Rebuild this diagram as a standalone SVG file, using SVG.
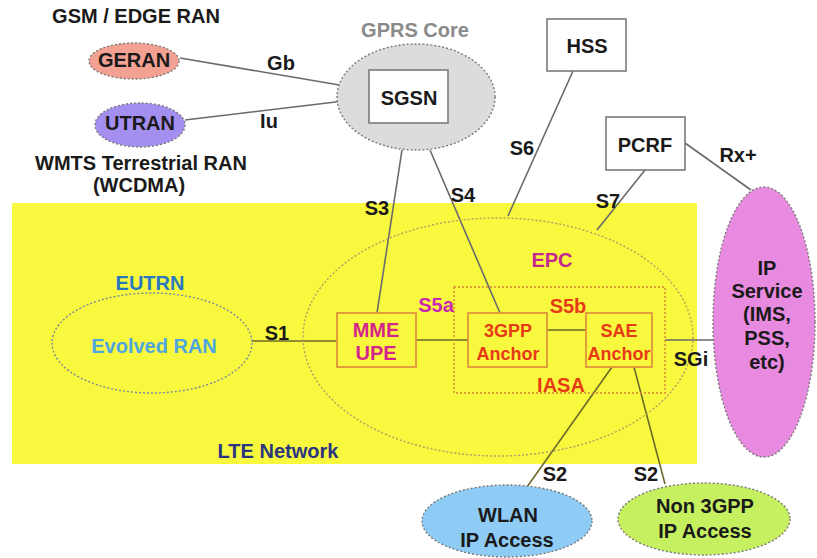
<svg xmlns="http://www.w3.org/2000/svg" width="817" height="558" viewBox="0 0 817 558">
  <style>
    text { font-family: "Liberation Sans", Arial, sans-serif; font-weight: bold; text-anchor: middle; font-size: 20px; }
    .lbl { fill: #1a1a1a; }
    .link { stroke: #6a6a6a; stroke-width: 1.6; fill: none; }
    .ylink { stroke: #6a6a2a; stroke-width: 1.6; fill: none; }
    .dot { stroke: #7a7a7a; stroke-width: 1.4; stroke-dasharray: 2 2; }
    .box { fill: #ffffff; stroke: #7a7a7a; stroke-width: 1.6; }
    .obox { fill: none; stroke: #e0943c; stroke-width: 1.8; }
    .red { fill: #e63a17; }
    .anc { font-size: 18px; }
  </style>

  <!-- LTE network area -->
  <rect id="lte-area" x="12" y="203" width="685" height="261" fill="#f8f83e"/>

  <!-- connectors -->
  <g id="connectors">
    <line class="link" x1="180" y1="58" x2="369" y2="90"/>
    <line class="link" x1="185" y1="120" x2="369" y2="98"/>
    <line class="link" x1="402" y1="150" x2="377" y2="313"/>
    <line class="link" x1="430" y1="150" x2="500" y2="313"/>
    <line class="link" x1="573" y1="71" x2="508" y2="216"/>
    <line class="link" x1="645" y1="170" x2="597" y2="230"/>
    <line class="link" x1="685" y1="143" x2="751" y2="190"/>
    <line class="ylink" x1="252" y1="341" x2="337" y2="341"/>
    <line class="ylink" x1="416" y1="340" x2="468" y2="340"/>
    <line class="ylink" x1="547" y1="330" x2="586" y2="330"/>
    <line class="link" x1="665" y1="340" x2="713" y2="340"/>
    <line class="ylink" x1="612" y1="367" x2="527" y2="487"/>
    <line class="ylink" x1="634" y1="367" x2="665" y2="484"/>
  </g>

  <!-- GERAN -->
  <g id="geran">
    <text class="lbl" x="136" y="23">GSM / EDGE RAN</text>
    <ellipse cx="134" cy="61" rx="45" ry="18" fill="#f3a192" class="dot"/>
    <text class="lbl" x="134" y="67" fill="#2a2a2a">GERAN</text>
  </g>

  <!-- UTRAN -->
  <g id="utran">
    <ellipse cx="140" cy="125" rx="45" ry="22" fill="#a48ef0" class="dot"/>
    <text class="lbl" x="140" y="130">UTRAN</text>
    <text class="lbl" x="141" y="170">WMTS Terrestrial RAN</text>
    <text class="lbl" x="139" y="192">(WCDMA)</text>
  </g>

  <!-- GPRS core with SGSN -->
  <g id="gprs-core">
    <text x="415" y="37" fill="#8a8a8a">GPRS Core</text>
    <ellipse cx="416" cy="97" rx="79" ry="53" fill="#dcdcdc" class="dot"/>
    <rect class="box" x="369" y="70" width="79" height="53"/>
    <text class="lbl" x="409" y="105" font-size="21">SGSN</text>
  </g>

  <!-- HSS -->
  <g id="hss">
    <rect class="box" x="547" y="19" width="79" height="52"/>
    <text class="lbl" x="587" y="53">HSS</text>
  </g>

  <!-- PCRF -->
  <g id="pcrf">
    <rect class="box" x="606" y="117" width="79" height="53"/>
    <text class="lbl" x="645" y="152">PCRF</text>
  </g>

  <!-- IP service -->
  <g id="ip-service">
    <ellipse cx="764" cy="322" rx="51" ry="135" fill="#e88ae0" class="dot"/>
    <text class="lbl" x="767" y="275">IP</text>
    <text class="lbl" x="767" y="298">Service</text>
    <text class="lbl" x="767" y="321">(IMS,</text>
    <text class="lbl" x="767" y="345">PSS,</text>
    <text class="lbl" x="767" y="369">etc)</text>
  </g>

  <!-- EUTRN -->
  <g id="eutrn">
    <text x="150" y="290" fill="#2a78c0">EUTRN</text>
    <ellipse cx="152" cy="343" rx="100" ry="50" fill="none" stroke="#7a8a9a" stroke-width="1.4" stroke-dasharray="2 2"/>
    <text x="154" y="353" fill="#4ea6e0">Evolved RAN</text>
  </g>

  <text id="lte-label" x="278" y="458" fill="#2c3580">LTE Network</text>

  <!-- EPC -->
  <g id="epc">
    <ellipse cx="498" cy="337" rx="195" ry="119" fill="none" stroke="#b89a6a" stroke-width="1.4" stroke-dasharray="2 2"/>
    <text x="552" y="267" fill="#c4288e">EPC</text>
  </g>

  <!-- IASA -->
  <g id="iasa">
    <rect x="454" y="287" width="211" height="106" fill="none" stroke="#d8843c" stroke-width="1.4" stroke-dasharray="2 2"/>
    <text class="red" x="561" y="392">IASA</text>
  </g>

  <!-- MME / UPE -->
  <g id="mme-upe">
    <rect class="obox" x="337" y="313" width="79" height="54"/>
    <text x="376" y="337" fill="#d4258c">MME</text>
    <text x="376" y="360" fill="#d4258c">UPE</text>
  </g>

  <!-- 3GPP anchor -->
  <g id="anchor-3gpp">
    <rect class="obox" x="468" y="313" width="79" height="54"/>
    <text class="red anc" x="508" y="337">3GPP</text>
    <text class="red anc" x="508" y="360">Anchor</text>
  </g>

  <!-- SAE anchor -->
  <g id="anchor-sae">
    <rect class="obox" x="586" y="313" width="66" height="54"/>
    <text class="red anc" x="619" y="337">SAE</text>
    <text class="red anc" x="619" y="360">Anchor</text>
  </g>

  <!-- WLAN -->
  <g id="wlan">
    <ellipse cx="507" cy="521" rx="85" ry="36" fill="#8ecbf5" class="dot"/>
    <text class="lbl" x="508" y="522">WLAN</text>
    <text class="lbl" x="507" y="547">IP Access</text>
  </g>

  <!-- Non 3GPP -->
  <g id="non-3gpp">
    <ellipse cx="704" cy="519" rx="86" ry="36" fill="#c6f060" class="dot"/>
    <text class="lbl" x="705" y="513">Non 3GPP</text>
    <text class="lbl" x="705" y="538">IP Access</text>
  </g>

  <!-- interface labels -->
  <g id="interface-labels">
    <text class="lbl" x="281" y="70">Gb</text>
    <text class="lbl" x="269" y="128">Iu</text>
    <text class="lbl" x="377" y="215">S3</text>
    <text class="lbl" x="463" y="202">S4</text>
    <text class="lbl" x="522" y="155">S6</text>
    <text class="lbl" x="608" y="208">S7</text>
    <text class="lbl" x="738" y="162">Rx+</text>
    <text class="lbl" x="277" y="340">S1</text>
    <text x="436" y="312" fill="#c828b0">S5a</text>
    <text class="red" x="568" y="313">S5b</text>
    <text class="lbl" x="691" y="366">SGi</text>
    <text class="lbl" x="555" y="481">S2</text>
    <text class="lbl" x="646" y="481">S2</text>
  </g>
</svg>
